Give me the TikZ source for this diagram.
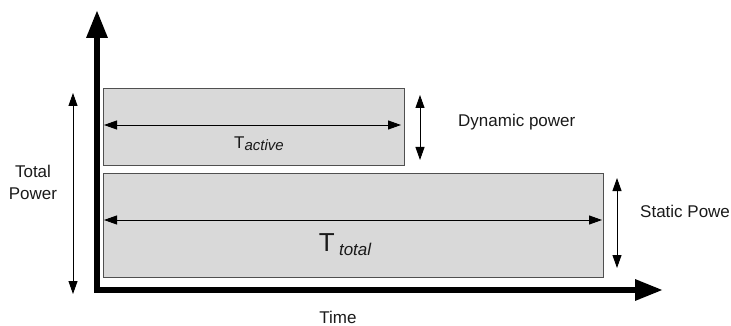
\documentclass[tikz,border=0pt]{standalone}
\usepackage{fontspec}
\setmainfont{Liberation Sans}
\usetikzlibrary{arrows.meta}
\definecolor{boxfill}{HTML}{D9D9D9}
\definecolor{boxline}{HTML}{505050}
\definecolor{txt}{HTML}{1A1A1A}
\tikzset{
  axisline/.style={line width=6pt, line join=miter, -{Triangle[length=28pt,width=20pt]}},
  powbox/.style={fill=boxfill, draw=boxline, line width=1pt},
  dimarrow/.style={line width=0.9pt, {Triangle[length=13pt,width=9pt]}-{Triangle[length=13pt,width=9pt]}},
  lbl/.style={inner sep=0pt, text=txt, font=\fontsize{17}{20}\selectfont},
}
\begin{document}
\begin{tikzpicture}[x=1pt,y=-1pt]
\useasboundingbox (0,0) rectangle (731,326);
% boxes
\path[powbox] (103,89) rectangle (404,166);
\path[powbox] (103,174) rectangle (603,277);
% axes
\coordinate (O) at (97,290);
\coordinate (ytip) at (97,10);
\coordinate (xtip) at (663,290);
\draw[axisline] (O) -- (ytip);
\draw[line width=6pt] (94,290) -- (640,290);
\draw[axisline] (O) -- (xtip);
% dimension arrows
\coordinate (ta1) at (104,125);
\coordinate (ta2) at (401,125);
\draw[dimarrow] (ta1) -- (ta2);
\coordinate (tt1) at (104,220);
\coordinate (tt2) at (602,220);
\draw[dimarrow] (tt1) -- (tt2);
\coordinate (dp1) at (420,95);
\coordinate (dp2) at (420,160);
\draw[dimarrow] (dp1) -- (dp2);
\coordinate (sp1) at (617,178);
\coordinate (sp2) at (617,268);
\draw[dimarrow] (sp1) -- (sp2);
\coordinate (tp1) at (73,93);
\coordinate (tp2) at (73,294);
\draw[dimarrow] (tp1) -- (tp2);
% labels
\node[lbl, anchor=base] (tactive) at (259,149) {T\raisebox{-2pt}{\fontsize{15}{18}\selectfont\itshape active}};
\node[lbl, anchor=base] (ttotal) at (345,251) {\fontsize{26}{30}\selectfont T\,\raisebox{-4pt}{\fontsize{17}{20}\selectfont\itshape total}};
\node[lbl, anchor=base west] (dyn) at (458,127) {Dynamic power};
\node[lbl, anchor=base west] (stat) at (640,217) {Static Powe};
\node[lbl, anchor=base] (time) at (338,323) {Time};
\node[lbl, anchor=base] (tot1) at (33,178) {Total};
\node[lbl, anchor=base] (tot2) at (33,200) {Power};
\end{tikzpicture}
\end{document}
